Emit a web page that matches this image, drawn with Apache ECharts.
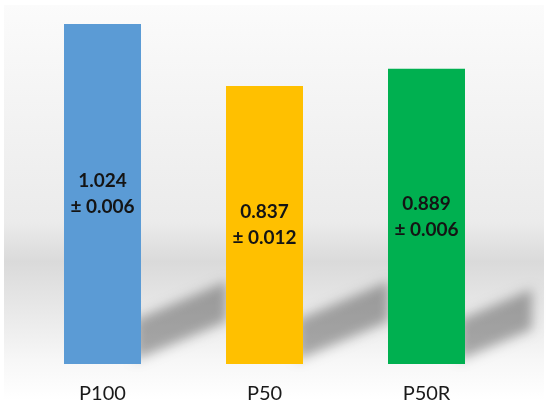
<!DOCTYPE html>
<html>
<head>
<meta charset="utf-8">
<script src="https://cdn.jsdelivr.net/npm/echarts@6/dist/echarts.min.js"></script>
<style>
  html, body { margin: 0; padding: 0; background: #fff; }
  #chart { width: 550px; height: 418px; }
</style>
</head>
<body>
<div id="chart"></div>
<script>
// 数据
var categories = ['P100', 'P50', 'P50R'];
var means = [1.024, 0.837, 0.889];
var errors = [0.006, 0.012, 0.006];
var barColors = ['#5b9bd5', '#ffc000', '#00b050'];

var chart = echarts.init(document.getElementById('chart'));

var BAR_W = 77;
var OFF = 2000; // 形状移出画面, 只留模糊的影子

// 柱子右侧的斜影
function renderShadow(params, api) {
  var base = api.coord([api.value(0), 0]);
  var xr = base[0] + BAR_W / 2 - 6;
  var yb = base[1] - 4;
  var len = Math.min(92, 532 - xr);
  var rise = len * 0.42;
  var thick = 40;
  return {
    type: 'polygon',
    shape: {
      points: [
        [xr - OFF, yb],
        [xr + len - OFF, yb - rise],
        [xr + len - OFF, yb - rise - thick],
        [xr - OFF, yb - thick]
      ]
    },
    style: {
      fill: '#000',
      shadowBlur: 12,
      shadowOffsetX: OFF,
      shadowColor: 'rgba(0,0,0,0.32)'
    }
  };
}

var option = {
  animation: false,
  backgroundColor: '#ffffff',
  graphic: [{
    type: 'rect',
    z: -10,
    shape: { x: 4, y: 5, width: 540, height: 395 },
    style: {
      fill: new echarts.graphic.LinearGradient(0, 0, 0, 1, [
        { offset: 0, color: '#fbfbfb' },
        { offset: 0.55, color: '#ebebeb' },
        { offset: 0.65, color: '#dadada' },
        { offset: 0.9, color: '#f7f7f7' },
        { offset: 1, color: '#ffffff' }
      ])
    }
  }],
  grid: { left: 21.5, right: 42.5, top: 24, bottom: 54 },
  xAxis: {
    type: 'category',
    data: categories,
    axisLine: { show: false },
    axisTick: { show: false },
    axisLabel: {
      margin: 20,
      fontFamily: 'Lato',
      fontSize: 20,
      color: '#1a1a1a'
    }
  },
  yAxis: {
    type: 'value',
    min: 0,
    max: 'dataMax',
    show: false,
    splitLine: { show: false }
  },
  series: [
    {
      type: 'custom',
      z: 1,
      silent: true,
      clip: false,
      renderItem: renderShadow,
      data: means.map(function (v, i) { return [i, v]; })
    },
    {
      type: 'bar',
      z: 5,
      barWidth: BAR_W,
      data: means.map(function (v, i) {
        return { value: v, itemStyle: { color: barColors[i] } };
      }),
      label: {
        show: true,
        position: 'inside',
        fontFamily: 'Lato',
        fontWeight: 'bold',
        fontSize: 19,
        lineHeight: 26,
        color: '#141414',
        formatter: function (p) {
          return p.value.toFixed(3) + '\n± ' + errors[p.dataIndex].toFixed(3);
        }
      }
    }
  ]
};

chart.setOption(option);
</script>
</body>
</html>
